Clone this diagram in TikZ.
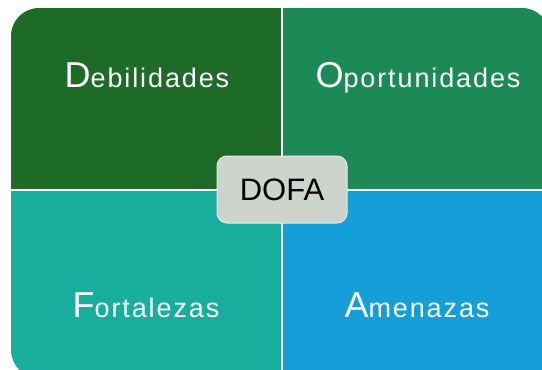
\documentclass[tikz,border=0pt]{standalone}
\usepackage{fontspec}
\setmainfont{Liberation Sans}
\newfontfamily\quadfont[LetterSpace=7]{Liberation Sans}
\definecolor{cTL}{HTML}{1E6B27}
\definecolor{cTR}{HTML}{1C8A56}
\definecolor{cBL}{HTML}{18AE9D}
\definecolor{cBR}{HTML}{149FD8}
\definecolor{cDofa}{HTML}{CCD4CD}
\definecolor{cDofaEdge}{HTML}{E6EBE6}
\newcommand\qlabel[2]{{\fontsize{36}{40}\selectfont #1}{\quadfont\fontsize{27}{30}\selectfont #2}}
\tikzset{
  qtext/.style={text=white, inner sep=0pt, anchor=base},
  divider/.style={white, line width=1.2pt},
  dofabox/.style={fill=cDofa, draw=cDofaEdge, line width=1pt, rounded corners=10pt,
    minimum width=130pt, minimum height=67pt, inner sep=0pt,
    font=\fontsize{31}{36}\selectfont, text=black}
}
\begin{document}
\begin{tikzpicture}[x=1pt,y=-1pt]
\useasboundingbox (0,0) rectangle (542,370);
\begin{scope}
  \clip[rounded corners=28pt] (11,8) rectangle (550,378);
  \fill[cTL] (11,8) rectangle (282,190);
  \fill[cTR] (282,8) rectangle (550,190);
  \fill[cBL] (11,190) rectangle (282,378);
  \fill[cBR] (282,190) rectangle (550,378);
  \draw[divider] (282,8) -- (282,378);
  \draw[divider] (11,190) -- (550,190);
\end{scope}
\node[qtext] (deb) at (147,87) {\qlabel{D}{ebilidades}};
\node[qtext] (opo) at (418,87) {\qlabel{O}{portunidades}};
\node[qtext] (fort) at (146,317) {\qlabel{F}{ortalezas}};
\node[qtext] (amen) at (417,317) {\qlabel{A}{menazas}};
\node[dofabox] (dofa) at (282,189.5) {DOFA};
\end{tikzpicture}
\end{document}
